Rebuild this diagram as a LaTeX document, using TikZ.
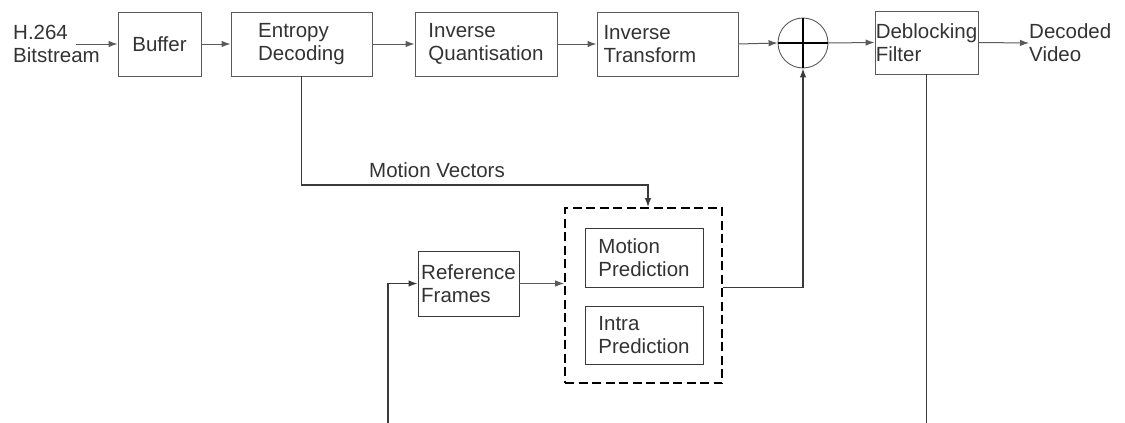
\documentclass[tikz,border=0pt]{standalone}
\usepackage{fontspec}
\setmainfont{Liberation Sans}
\usetikzlibrary{arrows.meta}
\definecolor{txt}{HTML}{333333}
\definecolor{ln}{HTML}{5A5A5A}
\definecolor{dk}{HTML}{3A3A3A}
\begin{document}
\begin{tikzpicture}[x=1pt,y=-1pt,
  base/.style={text=txt, font=\fontsize{20.5}{23}\selectfont, align=left},
  box/.style={base, draw=ln, line width=0.9pt, rectangle, inner sep=0pt},
  lbl/.style={base, inner sep=0pt},
  conn/.style={draw=ln, line width=1pt, -{Latex[length=9pt,width=6.5pt]}},
  dconn/.style={draw=dk, line width=1.3pt, -{Latex[length=9pt,width=6.5pt]}},
  dashbox/.style={draw=black, line width=1.8pt, dash pattern=on 9pt off 4.5pt, rectangle, inner sep=0pt},
  ]
\useasboundingbox (0,0) rectangle (1125,423);
\clip (0,0) rectangle (1125,423);

\node[lbl, anchor=west] (src) at (13,44) {H.264\\Bitstream};
\coordinate (inp) at (76,44);
\node[box, minimum width=83pt, minimum height=64pt] (buf) at (159.5,44) {Buffer};
\node[box, minimum width=141pt, minimum height=64pt] (ent) at (301.5,44) {Entropy\\Decoding};
\node[box, minimum width=142pt, minimum height=64pt] (iq) at (486,44) {Inverse\\Quantisation};
\node[box, minimum width=141pt, minimum height=64pt, text width=128pt, align=left] (it) at (667.5,44) {Inverse\\Transform};
\node[draw=ln, line width=0.9pt, circle, minimum size=50pt, inner sep=0pt] (sum) at (803,43) {};
\draw[draw=black, line width=1.2pt] (sum.west) -- (sum.east) (sum.north) -- (sum.south);
\node[box, minimum width=103pt, minimum height=63pt] (deb) at (926.5,42.5) {Deblocking\\Filter};
\node[lbl, anchor=west] (dec) at (1029,43) {Decoded\\Video};

\node[dashbox, minimum width=157pt, minimum height=175pt] (pred) at (643.5,295.5) {};
\node[box, draw=dk, minimum width=118pt, minimum height=59pt] (mp) at (644,257.5) {Motion\\Prediction};
\node[box, draw=dk, minimum width=118pt, minimum height=58pt] (ip) at (644,335) {Intra\\Prediction};
\node[box, draw=dk, minimum width=101pt, minimum height=65pt] (ref) at (468.5,283.5) {Reference\\Frames};

\node[lbl] (mvl) at (437,170) {Motion Vectors};
\coordinate (mv) at (648,185);
\coordinate (fb1) at (926.5,440);
\coordinate (fb2) at (388,440);

\draw[conn] (inp) -- (buf.west);
\draw[conn] (buf.east) -- (ent.west);
\draw[conn] (ent.east) -- (iq.west);
\draw[conn] (iq.east) -- (it.west);
\draw[conn] (it.east) -- (sum.west);
\draw[conn] (sum.east) -- (deb.west);
\draw[conn] (deb.east) -- (dec.west);
\draw[dconn] (ent.south) |- (mv) -- (pred.north -| mv);
\draw[conn] (ref.east) -- (ref.east -| pred.west);
\draw[dconn] (pred.east |- mp.south) -| (sum.south);
\draw[dconn] (deb.south) -- (fb1) -- (fb2) |- (ref.west);
\end{tikzpicture}
\end{document}
